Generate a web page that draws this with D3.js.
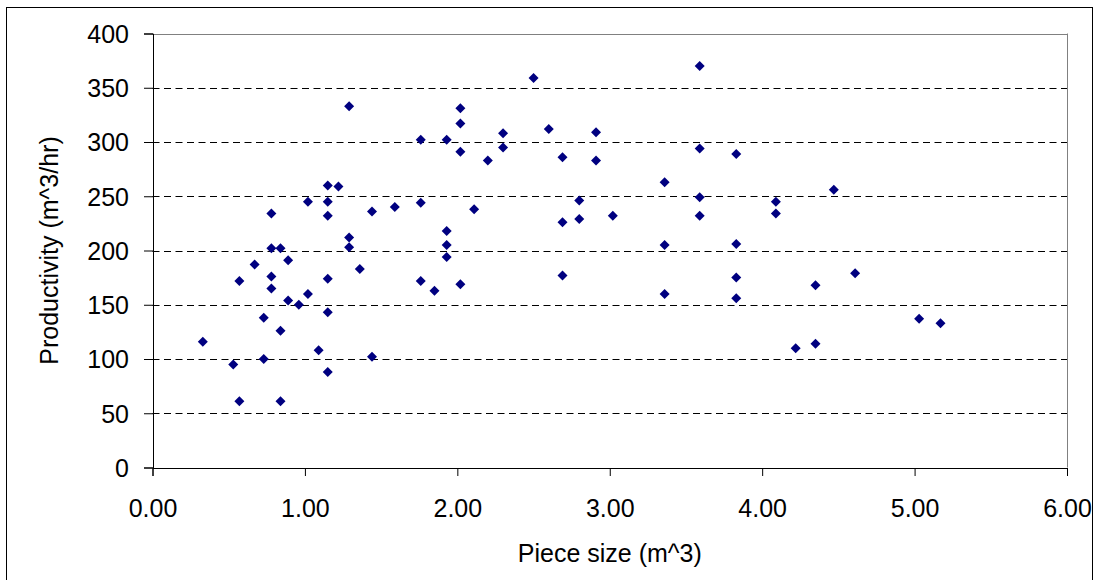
<!DOCTYPE html>
<html>
<head>
<meta charset="utf-8">
<script src="https://cdn.jsdelivr.net/npm/d3@7"></script>
<style>
  html, body { margin: 0; padding: 0; background: #fff; }
  svg { display: block; }
  text { font-family: "Liberation Sans", Arial, sans-serif; fill: #000; }
</style>
</head>
<body>
<svg id="chart" width="1097" height="580"></svg>
<script>
// Data
const pieceSize = [
  0.33, 0.53, 0.57, 0.57, 0.67, 0.73, 0.73, 0.78, 0.78, 0.78,
  0.78, 0.84, 0.84, 0.84, 0.89, 0.89, 0.96, 1.02, 1.02, 1.09,
  1.15, 1.15, 1.15, 1.15, 1.15, 1.15, 1.22, 1.29, 1.29, 1.29,
  1.36, 1.44, 1.44, 1.59, 1.76, 1.76, 1.76, 1.85, 1.93, 1.93,
  1.93, 1.93, 2.02, 2.02, 2.02, 2.02, 2.11, 2.20, 2.30, 2.30,
  2.50, 2.60, 2.69, 2.69, 2.69, 2.80, 2.80, 2.91, 2.91, 3.02,
  3.36, 3.36, 3.36, 3.59, 3.59, 3.59, 3.59, 3.83, 3.83, 3.83,
  3.83, 4.09, 4.09, 4.22, 4.35, 4.35, 4.47, 4.61, 5.03, 5.17
];
const productivity = [
  116, 95, 172, 61, 187, 138, 100, 234, 202, 176,
  165, 202, 126, 61, 191, 154, 150, 245, 160, 108,
  260, 245, 232, 174, 143, 88, 259, 333, 212, 203,
  183, 236, 102, 240, 302, 244, 172, 163, 302, 218,
  205, 194, 331, 317, 291, 169, 238, 283, 308, 295,
  359, 312, 286, 226, 177, 246, 229, 309, 283, 232,
  263, 205, 160, 370, 294, 249, 232, 289, 206, 175,
  156, 245, 234, 110, 168, 114, 256, 179, 137, 133
];
const xTicks = [0, 1, 2, 3, 4, 5, 6];
const yTicks = [0, 50, 100, 150, 200, 250, 300, 350, 400];
const xTitle = "Piece size (m^3)";
const yTitle = "Productivity (m^3/hr)";

const svg = d3.select("#chart");

// outer chart border
svg.append("rect")
  .attr("x", 6.5).attr("y", 7.5)
  .attr("width", 1086).attr("height", 590)
  .attr("fill", "#fff").attr("stroke", "#000").attr("stroke-width", 1);

const x = d3.scaleLinear().domain([0, 6]).range([152.5, 1067]);
const y = d3.scaleLinear().domain([0, 400]).range([467.5, 33.5]);

const pLeft = x(0), pRight = x(6), pTop = y(400), pBottom = y(0);

// gridlines (dashed)
svg.append("g")
  .selectAll("line")
  .data(yTicks.filter(d => d > 0 && d < 400))
  .join("line")
  .attr("x1", pLeft).attr("x2", pRight)
  .attr("y1", d => Math.round(y(d)) + 0.5).attr("y2", d => Math.round(y(d)) + 0.5)
  .attr("stroke", "#000").attr("stroke-width", 1)
  .attr("stroke-dasharray", "7,4.5");

// plot area border top/right (gray)
svg.append("line").attr("x1", pLeft).attr("x2", pRight)
  .attr("y1", Math.round(pTop) + 0.5).attr("y2", Math.round(pTop) + 0.5)
  .attr("stroke", "#808080");
svg.append("line").attr("x1", Math.round(pRight) + 0.5).attr("x2", Math.round(pRight) + 0.5)
  .attr("y1", pTop).attr("y2", pBottom)
  .attr("stroke", "#808080");

// Y axis
const yAxis = d3.axisLeft(y).tickValues(yTicks).tickSize(9).tickPadding(15)
  .tickFormat(d3.format("d"));
const gy = svg.append("g").attr("transform", `translate(${Math.round(pLeft)},0)`).call(yAxis);
gy.select(".domain").attr("stroke", "#000");
gy.selectAll(".tick line").attr("stroke", "#000");
gy.selectAll("text").style("font-size", "25px").attr("font-family", null).attr("dy", "0.35em");

// X axis
const xAxis = d3.axisBottom(x).tickValues(xTicks).tickSize(8).tickPadding(23)
  .tickFormat(d3.format(".2f"));
const gx = svg.append("g").attr("transform", `translate(0,${Math.round(pBottom)})`).call(xAxis);
gx.select(".domain").attr("stroke", "#000");
gx.selectAll(".tick line").attr("stroke", "#000");
gx.selectAll("text").style("font-size", "25px").attr("font-family", null).attr("dy", "0.71em");

// axis titles
svg.append("text")
  .attr("x", (pLeft + pRight) / 2).attr("y", 562)
  .attr("text-anchor", "middle").style("font-size", "25px")
  .text(xTitle);
svg.append("text")
  .attr("transform", `translate(58,${(pTop + pBottom) / 2}) rotate(-90)`)
  .attr("text-anchor", "middle").style("font-size", "25px")
  .text(yTitle);

// points (diamonds)
const diamond = d3.symbol().type(d3.symbolSquare).size(50);
const pts = pieceSize.map((v, i) => ({ px: v, py: productivity[i] }));
svg.append("g")
  .selectAll("path")
  .data(pts)
  .join("path")
  .attr("d", diamond)
  .attr("transform", d => `translate(${x(d.px)},${y(d.py)}) rotate(45)`)
  .attr("fill", "#000080");
</script>
</body>
</html>
